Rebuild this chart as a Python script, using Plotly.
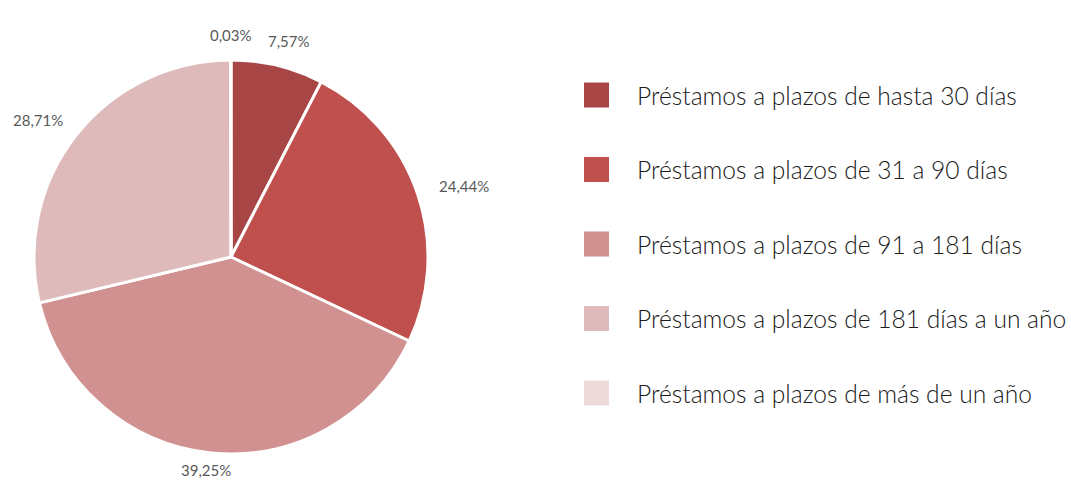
import math
import plotly.graph_objects as go

labels = [
    "Préstamos a plazos de hasta 30 días",
    "Préstamos a plazos de 31 a 90 días",
    "Préstamos a plazos de 91 a 181 días",
    "Préstamos a plazos de 181 días a un año",
    "Préstamos a plazos de más de un año",
]
values = [7.57, 24.44, 39.25, 28.71, 0.03]
colors = ["#A84646", "#C0504D", "#D09190", "#DFBABA", "#EDDADB"]

W, H = 1071, 483
FONT = "Lato, Open Sans, sans-serif"

# pie geometry (pixels)
CX, CY, R = 231, 257, 197

fig = go.Figure()
fig.add_trace(go.Pie(
    labels=labels,
    values=values,
    sort=False,
    direction="clockwise",
    rotation=0,
    marker=dict(colors=colors, line=dict(color="white", width=3)),
    textinfo="none",
    showlegend=False,
    hoverinfo="label+value",
    domain=dict(x=[(CX - R) / W, (CX + R) / W], y=[1 - (CY + R) / H, 1 - (CY - R) / H]),
))

annotations = []
# percentage labels placed outside each slice, from the data
total = sum(values)
cum = 0.0
for v in values:
    mid = (cum + v / 2) / total * 2 * math.pi
    cum += v
    s, c = math.sin(mid), math.cos(mid)
    px = CX + 246 * s
    py = CY - (214 if c < 0 else 222) * c
    annotations.append(dict(
        xref="paper", yref="paper", x=px / W, y=1 - py / H,
        xanchor="center", yanchor="middle", showarrow=False,
        text=f"{v:.2f}%".replace(".", ","),
        font=dict(family=FONT, size=15, color="#595959"),
    ))

# custom legend
shapes = []
y0 = 95
gap = 74.5
for i, lab in enumerate(labels):
    yc = y0 + i * gap
    shapes.append(dict(
        type="rect", xref="paper", yref="paper",
        x0=584 / W, x1=609 / W,
        y0=1 - (yc + 12.5) / H, y1=1 - (yc - 12.5) / H,
        fillcolor=colors[i], line=dict(width=0),
    ))
    annotations.append(dict(
        xref="paper", yref="paper", x=635 / W, y=1 - yc / H,
        xanchor="left", yanchor="middle", showarrow=False,
        text=lab, font=dict(family=FONT, size=24.6, color="#1a1a1a", weight=300),
    ))

fig.update_layout(
    width=W, height=H,
    margin=dict(l=0, r=0, t=0, b=0),
    paper_bgcolor="white",
    plot_bgcolor="white",
    separators=",.",
    shapes=shapes,
    annotations=annotations,
)

fig.write_html("out.html", config={"displayModeBar": False},
               post_script="document.body.style.margin='0';")
